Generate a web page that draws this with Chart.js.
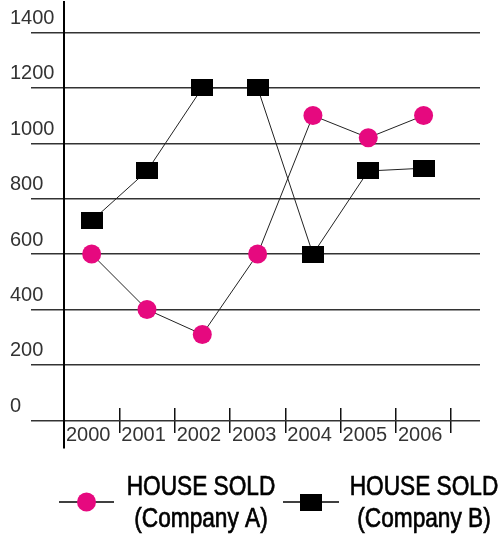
<!DOCTYPE html>
<html>
<head>
<meta charset="utf-8">
<script src="https://cdn.jsdelivr.net/npm/chart.js@4/dist/chart.umd.min.js"></script>
<style>
  html, body { margin: 0; padding: 0; background: #fff; }
  #wrap { width: 500px; height: 540px; }
</style>
</head>
<body>
<div id="wrap"><canvas id="houseChart" width="500" height="540"></canvas></div>
<script>
const years = ['2000', '2001', '2002', '2003', '2004', '2005', '2006'];
const companyA = [600, 400, 310, 600, 1100, 1020, 1100];
const companyB = [720, 900, 1200, 1200, 600, 900, 910];
const yTicks = [0, 200, 400, 600, 800, 1000, 1200, 1400];
const legendA = ['HOUSE SOLD', '(Company A)'];
const legendB = ['HOUSE SOLD', '(Company B)'];

const PINK = '#e6097f';
const LINE = '#222';
const GRID = '#333';
const FONT = 'Liberation Sans';

// black box marker, wider than tall like in the scan
function makeBox(w, h) {
    const c = document.createElement('canvas');
    c.width = w;
    c.height = h;
    const g = c.getContext('2d');
    g.fillStyle = '#000';
    g.fillRect(0, 0, w, h);
    return c;
}
const boxMarker = makeBox(22, 17);

const toPoints = (vals) => vals.map((v, i) => ({ x: i, y: v }));

// x ticks sit between the years: -0.5, 0.5 ... 6.5
const xBounds = years.map((_, i) => i - 0.5).concat(years.length - 0.5);

// two-line legend under the plot, text squeezed like the original
const legendPlugin = {
    id: 'twoLineLegend',
    afterDraw(chart) {
        const ctx = chart.ctx;
        const y = 502;
        const slots = [
            { x0: 59, x1: 114, textX: 201, lines: legendA, ds: 0 },
            { x0: 283, x1: 339, textX: 424, lines: legendB, ds: 1 }
        ];
        ctx.save();
        slots.forEach(s => {
            const ds = chart.data.datasets[s.ds];
            ctx.strokeStyle = '#000';
            ctx.lineWidth = 1.5;
            ctx.beginPath();
            ctx.moveTo(s.x0, y);
            ctx.lineTo(s.x1, y);
            ctx.stroke();
            const cx = (s.x0 + s.x1) / 2;
            if (ds.pointStyle === 'circle') {
                ctx.fillStyle = ds.pointBackgroundColor;
                ctx.beginPath();
                ctx.arc(cx, y, ds.pointRadius, 0, Math.PI * 2);
                ctx.fill();
            } else {
                ctx.drawImage(ds.pointStyle, cx - ds.pointStyle.width / 2, y - ds.pointStyle.height / 2);
            }
            ctx.save();
            ctx.translate(s.textX, 0);
            ctx.scale(0.81, 1);
            ctx.fillStyle = '#000';
            ctx.strokeStyle = '#000';
            ctx.lineWidth = 0.7;
            ctx.font = `28px "${FONT}"`;
            ctx.textAlign = 'center';
            ctx.textBaseline = 'middle';
            s.lines.forEach((t, k) => {
                ctx.fillText(t, 0, 487 + k * 32);
                ctx.strokeText(t, 0, 487 + k * 32);
            });
            ctx.restore();
        });
        ctx.restore();
    }
};

new Chart(document.getElementById('houseChart'), {
    type: 'line',
    data: {
        datasets: [
            {
                label: legendA.join(' '),
                data: toPoints(companyA),
                borderColor: LINE,
                borderWidth: 1,
                pointStyle: 'circle',
                pointRadius: 9.5,
                pointBackgroundColor: PINK,
                pointBorderWidth: 0
            },
            {
                label: legendB.join(' '),
                data: toPoints(companyB),
                borderColor: LINE,
                borderWidth: 1,
                pointStyle: boxMarker,
                pointRadius: 10,
                pointBorderWidth: 0
            }
        ]
    },
    options: {
        responsive: false,
        animation: false,
        layout: { autoPadding: false, padding: { left: 10, right: 20, top: 2, bottom: 92 } },
        plugins: { legend: { display: false }, tooltip: { enabled: false } },
        scales: {
            x: {
                type: 'linear',
                position: { y: 43 },
                min: -0.5,
                max: 7.02,
                afterBuildTicks: s => { s.ticks = xBounds.map(v => ({ value: v })); },
                afterFit: s => { s.paddingLeft = 0; s.paddingRight = 0; },
                grid: { drawOnChartArea: false, drawTicks: true, tickLength: 25, color: '#111', lineWidth: 1.5 },
                border: { display: false },
                ticks: {
                    autoSkip: false,
                    maxRotation: 0,
                    align: 'start',
                    labelOffset: 2,
                    padding: -10,
                    color: '#333',
                    font: { family: FONT, size: 20 },
                    callback: (v, i) => years[i] ?? ''
                }
            },
            y: {
                min: -100,
                max: 1510,
                afterBuildTicks: s => { s.ticks = yTicks.map(v => ({ value: v })); },
                afterFit: s => { s.width = 54; s.paddingTop = 0; s.paddingBottom = 0; },
                grid: { color: GRID, lineWidth: 1.5, tickLength: 33, drawTicks: true },
                border: { display: true, color: '#000', width: 2 },
                ticks: {
                    crossAlign: 'far',
                    labelOffset: -14,
                    color: '#333',
                    font: { family: FONT, size: 20 },
                    callback: v => String(v)
                }
            }
        }
    },
    plugins: [legendPlugin]
});
</script>
</body>
</html>
